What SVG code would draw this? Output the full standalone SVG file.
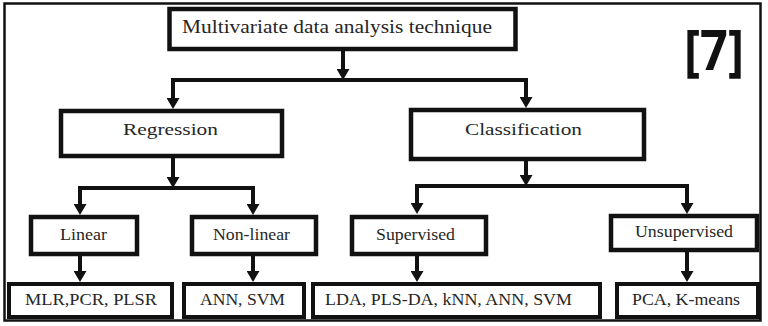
<svg xmlns="http://www.w3.org/2000/svg" width="768" height="326" viewBox="0 0 768 326">
  <style>
    .box { fill: #ffffff; stroke: #111111; stroke-width: 4.5; }
    .leaf { fill: #ffffff; stroke: #111111; stroke-width: 4; }
    .lbl { font-family: "Liberation Serif", "Times New Roman", serif; fill: #262626; }
    .wire { fill: none; stroke: #111111; stroke-width: 4; stroke-linejoin: miter; stroke-linecap: square; }
  </style>
  <defs>
    <marker id="head" viewBox="0 0 11 13" refX="0" refY="6.5" markerWidth="11" markerHeight="13" markerUnits="userSpaceOnUse" orient="auto-start-reverse">
      <path d="M0,0 L11,6.5 L0,13 Z" fill="#111111"/>
    </marker>
  </defs>

  <rect x="0" y="0" width="768" height="326" fill="#ffffff"/>
  <!-- outer frame -->
  <rect x="4.5" y="3.5" width="756" height="317" fill="none" stroke="#111111" stroke-width="2.5"/>

  <!-- connectors -->
  <g id="connectors">
    <path class="wire" d="M343,51 V69" marker-end="url(#head)"/>
    <path class="wire" d="M173,98 V80 H526 V97" marker-start="url(#head)" marker-end="url(#head)"/>
    <path class="wire" d="M173,159 V177" marker-end="url(#head)"/>
    <path class="wire" d="M80,204 V188 H253 V204" marker-start="url(#head)" marker-end="url(#head)"/>
    <path class="wire" d="M526,161 V175" marker-end="url(#head)"/>
    <path class="wire" d="M417,203 V186 H687 V203" marker-start="url(#head)" marker-end="url(#head)"/>
    <path class="wire" d="M80,257 V271" marker-end="url(#head)"/>
    <path class="wire" d="M253,257 V271" marker-end="url(#head)"/>
    <path class="wire" d="M417,257 V271" marker-end="url(#head)"/>
    <path class="wire" d="M687,253 V271" marker-end="url(#head)"/>
  </g>

  <g id="root">
    <rect class="box" x="169.5" y="9" width="346" height="40" stroke-width="5"/>
    <text class="lbl" x="182" y="33" font-size="19" textLength="310" lengthAdjust="spacingAndGlyphs">Multivariate data analysis technique</text>
  </g>

  <g id="regression">
    <rect class="box" x="61" y="111" width="221" height="45"/>
    <text class="lbl" x="123" y="135" font-size="17.5" textLength="95" lengthAdjust="spacingAndGlyphs">Regression</text>
  </g>

  <g id="classification">
    <rect class="box" x="411" y="110" width="233" height="49"/>
    <text class="lbl" x="465" y="135" font-size="17.5" textLength="117" lengthAdjust="spacingAndGlyphs">Classification</text>
  </g>

  <g id="linear">
    <rect class="box" x="31" y="217" width="106" height="37"/>
    <text class="lbl" x="60" y="240" font-size="16.5" textLength="47" lengthAdjust="spacingAndGlyphs">Linear</text>
  </g>

  <g id="nonlinear">
    <rect class="box" x="192" y="217" width="124" height="37"/>
    <text class="lbl" x="213" y="240" font-size="16.5" textLength="77" lengthAdjust="spacingAndGlyphs">Non-linear</text>
  </g>

  <g id="supervised">
    <rect class="box" x="352" y="217" width="134" height="37"/>
    <text class="lbl" x="376" y="240" font-size="16.5" textLength="79" lengthAdjust="spacingAndGlyphs">Supervised</text>
  </g>

  <g id="unsupervised">
    <rect class="box" x="611" y="216" width="146" height="34"/>
    <text class="lbl" x="635" y="237" font-size="16.5" textLength="98" lengthAdjust="spacingAndGlyphs">Unsupervised</text>
  </g>

  <g id="linear-methods">
    <rect class="leaf" x="9" y="284" width="163" height="33"/>
    <text class="lbl" x="25" y="305" font-size="16.5" textLength="132" lengthAdjust="spacingAndGlyphs">MLR,PCR, PLSR</text>
  </g>

  <g id="nonlinear-methods">
    <rect class="leaf" x="184" y="284" width="120" height="33"/>
    <text class="lbl" x="200" y="305" font-size="16.5" textLength="85" lengthAdjust="spacingAndGlyphs">ANN, SVM</text>
  </g>

  <g id="supervised-methods">
    <rect class="leaf" x="313" y="284" width="287" height="33"/>
    <text class="lbl" x="325" y="305" font-size="16.5" textLength="247" lengthAdjust="spacingAndGlyphs">LDA, PLS-DA, kNN, ANN,  SVM</text>
  </g>

  <g id="unsupervised-methods">
    <rect class="leaf" x="617" y="284" width="141" height="33"/>
    <text class="lbl" x="632" y="305" font-size="16.5" textLength="108" lengthAdjust="spacingAndGlyphs">PCA, K-means</text>
  </g>

  <!-- reference tag -->
  <text x="684" y="70" font-family="'Open Sans', 'Liberation Sans', sans-serif" font-weight="bold" font-size="56" fill="#111111" textLength="60" lengthAdjust="spacingAndGlyphs">[7]</text>
</svg>
